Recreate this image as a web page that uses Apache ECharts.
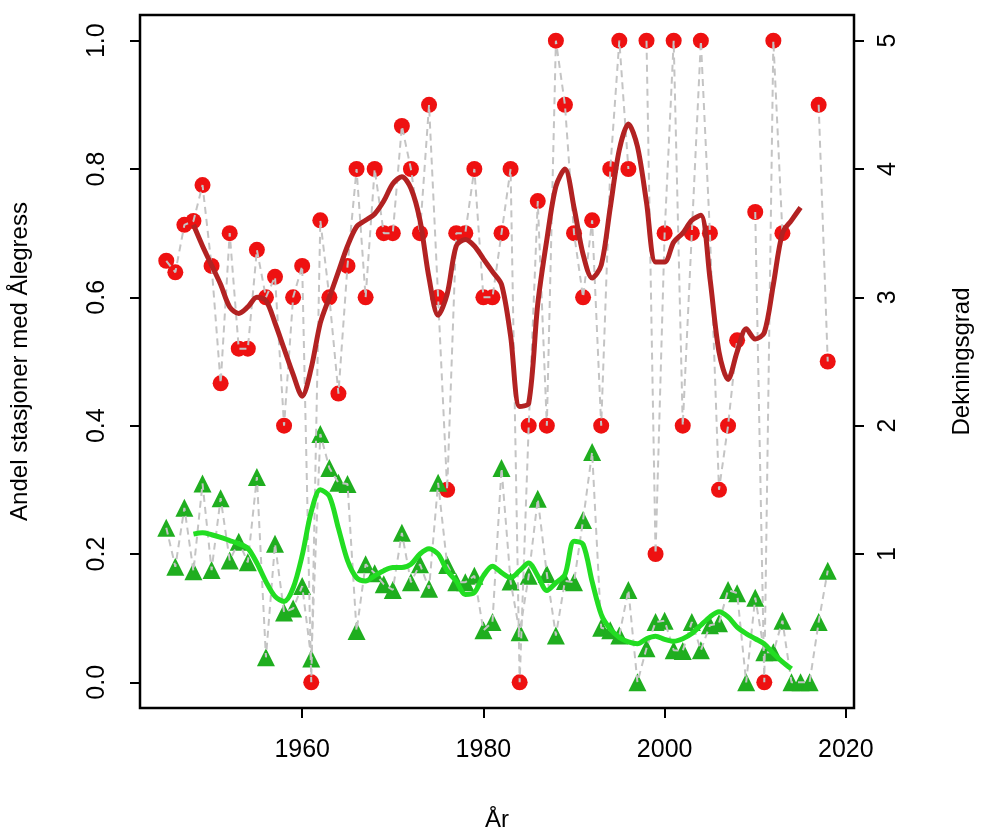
<!DOCTYPE html>
<html>
<head>
<meta charset="utf-8">
<script src="https://cdn.jsdelivr.net/npm/echarts@6/dist/echarts.min.js"></script>
<style>body{margin:0;background:#fff}</style>
</head>
<body>
<div id="main" style="width:982px;height:837px;"></div>
<script>
// years 1945..2018
let years = []
for (let y = 1945; y <= 2018; y++) years.push(y)

// Dekningsgrad (scaled 0-1), red points
let dekning = [.657,.639,.713,.719,.775,.649,.466,.70,.52,.52,.674,.60,.632,.40,.60,.649,0,.72,.60,.45,.649,.80,.60,.80,.70,.70,.867,.80,.70,.90,.60,.30,.70,.70,.80,.60,.60,.70,.80,0,.40,.75,.40,1,.90,.70,.60,.72,.40,.80,1,.80,null,1,.20,.70,1,.40,.70,1,.70,.30,.40,.533,null,.733,0,1,.70,null,null,null,.90,.50]
// Andel stasjoner, green triangles
let andel = [.241,.18,.272,.173,.31,.175,.287,.19,.219,.187,.32,.039,.216,.109,.115,.15,.037,.387,.334,.311,.309,.08,.184,.17,.153,.144,.233,.156,.184,.146,.311,.183,.156,.156,.166,.081,.094,.334,.157,.078,.166,.286,.169,.073,.158,.156,.253,.359,.085,.081,.073,.144,0,.053,.094,.096,.05,.049,.094,.05,.089,.092,.144,.139,0,.132,.047,.047,.096,0,0,0,.094,.174]

// smoothed curves, 1948..2015
let smoothYears = []
for (let y = 1948; y <= 2015; y++) smoothYears.push(y)
let dekningSmooth = [.713,.68,.65,.62,.585,.575,.585,.60,.595,.56,.52,.48,.446,.49,.56,.60,.64,.68,.71,.72,.73,.75,.777,.788,.77,.72,.63,.572,.605,.68,.69,.68,.66,.64,.62,.54,.43,.435,.59,.69,.773,.80,.74,.667,.63,.65,.74,.83,.87,.835,.748,.655,.655,.686,.70,.72,.728,.63,.515,.472,.515,.551,.535,.545,.62,.70,.72,.74]
let andelSmooth = [.231,.233,.23,.226,.221,.216,.209,.186,.157,.134,.126,.147,.198,.266,.30,.29,.24,.19,.163,.158,.166,.174,.179,.179,.184,.20,.208,.20,.174,.158,.137,.14,.166,.181,.171,.163,.174,.186,.166,.143,.155,.168,.22,.215,.157,.106,.083,.070,.063,.06,.068,.072,.067,.064,.068,.076,.089,.102,.11,.102,.086,.076,.068,.06,.045,.032,.021]

let pair = (xs, vs) => xs.map((x, i) => [x, vs[i]])
let yTicks = [0, 0.2, 0.4, 0.6, 0.8, 1.0]
let xTicks = [1960, 1980, 2000, 2020]
let font = 'Liberation Sans, Arial, sans-serif'

let chart = echarts.init(document.getElementById('main'))
let tick = { show: true, inside: false, length: 10, lineStyle: { color: '#000', width: 2 } }
let label = { fontSize: 25, color: '#000', fontFamily: font }
let nameStyle = { fontSize: 24, color: '#000', fontFamily: font }
chart.setOption({
    animation: false,
    grid: { left: 136, right: 122, top: 15, bottom: 129, show: true, borderColor: '#000', borderWidth: 2.5 },
    xAxis: {
        type: 'value', min: 1942.1, max: 2020.9,
        name: 'År', nameLocation: 'middle', nameGap: 100, nameTextStyle: nameStyle,
        axisLine: { show: false, onZero: false }, splitLine: { show: false },
        axisTick: Object.assign({}, tick, { customValues: xTicks }),
        axisLabel: Object.assign({}, label, { customValues: xTicks, margin: 30, formatter: v => String(v) })
    },
    yAxis: [{
        type: 'value', min: -0.04, max: 1.04, position: 'left',
        name: 'Andel stasjoner med Ålegress', nameLocation: 'middle', nameGap: 108, nameTextStyle: nameStyle,
        axisLine: { show: false, onZero: false }, splitLine: { show: false },
        axisTick: Object.assign({}, tick, { customValues: yTicks }),
        axisLabel: Object.assign({}, label, { customValues: yTicks, rotate: 90, margin: 30, formatter: v => v.toFixed(1) })
    }, {
        type: 'value', min: -0.04, max: 1.04, position: 'right',
        name: 'Dekningsgrad', nameLocation: 'middle', nameGap: 96, nameTextStyle: nameStyle,
        axisLine: { show: false, onZero: false }, splitLine: { show: false },
        axisTick: Object.assign({}, tick, { customValues: [0.2, 0.4, 0.6, 0.8, 1.0] }),
        axisLabel: Object.assign({}, label, { customValues: [0.2, 0.4, 0.6, 0.8, 1.0], rotate: 90, margin: 22,
            formatter: v => String(Math.round(v * 5)) })
    }],
    series: [{
        type: 'line', data: pair(years, dekning), symbol: 'none', silent: true,
        lineStyle: { color: '#c4c4c4', width: 2, type: [7, 5] }
    }, {
        type: 'line', data: pair(years, andel), symbol: 'none', silent: true,
        lineStyle: { color: '#c4c4c4', width: 2, type: [7, 5] }
    }, {
        type: 'scatter', data: pair(years, dekning), symbol: 'circle', symbolSize: 16,
        itemStyle: { color: '#ee1111', opacity: 1 }
    }, {
        type: 'scatter', data: pair(years, andel), symbol: 'triangle', symbolSize: 18,
        itemStyle: { color: '#1fae1f', opacity: 1 }
    }, {
        type: 'line', data: pair(smoothYears, dekningSmooth), symbol: 'none', smooth: 0.3,
        lineStyle: { color: '#b22222', width: 5 }
    }, {
        type: 'line', data: pair(smoothYears, andelSmooth), symbol: 'none', smooth: 0.3,
        lineStyle: { color: '#22dd22', width: 5 }
    }]
})
</script>
</body>
</html>
